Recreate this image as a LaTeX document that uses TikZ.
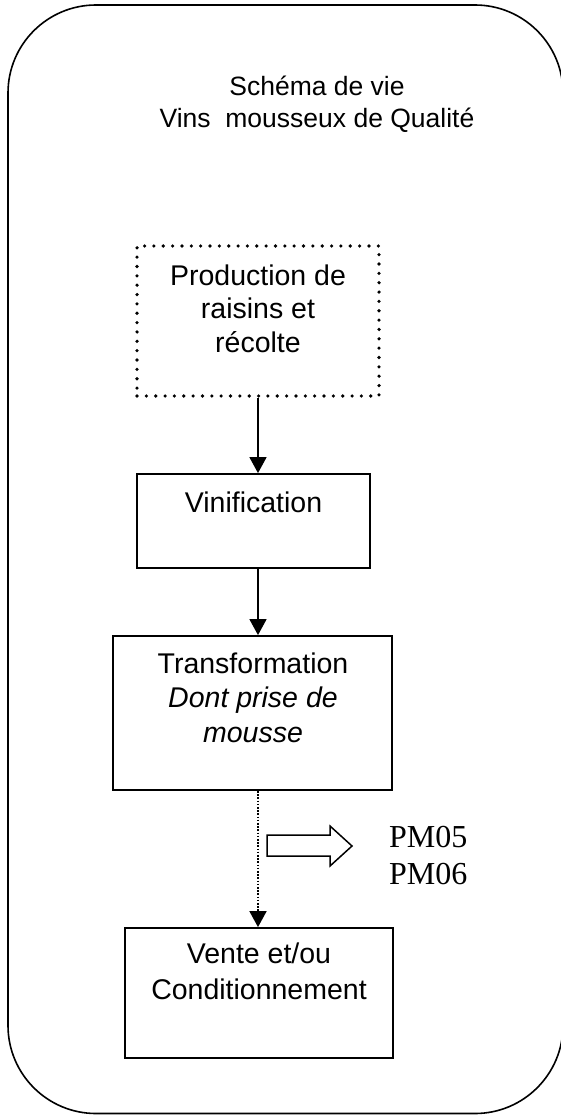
\documentclass[tikz,border=0pt]{standalone}
\usepackage{fontspec}
\setmainfont{Liberation Sans}
\newfontfamily\pmserif{Liberation Serif}
\usetikzlibrary{arrows.meta}
\tikzset{
  frame/.style={draw, line width=1.6pt, rounded corners=88pt},
  stepbox/.style={draw, line width=1.8pt, inner sep=0pt, rectangle},
  dotbox/.style={draw, line width=3.6pt, line cap=round, dash pattern=on 0pt off 9.35pt, inner sep=0pt, rectangle},
  boxtext/.style={anchor=north, inner sep=0pt, align=center},
  arr/.style={line width=1.6pt, -{Triangle[width=17pt,length=16pt]}},
  dotarr/.style={line width=1.8pt, dash pattern=on 1.6pt off 1.6pt, -{Triangle[width=17pt,length=16pt]}},
  blockarrow/.style={draw, line width=1.5pt, line join=miter},
}
\begin{document}
\begin{tikzpicture}[x=1pt,y=-1pt]
\useasboundingbox (0,0) rectangle (561,1115);
\clip (0,0) rectangle (561,1115);
% outer frame
\draw[frame] (8,5) rectangle (563,1113.5);
% title
\node[boxtext, font=\fontsize{26.5}{32}\selectfont] (title) at (317,76) {Schéma de vie\\Vins~ mousseux de Qualité};
% boxes
\node[dotbox, minimum width=242pt, minimum height=150pt] (prod) at (258,321) {};
\node[stepbox, minimum width=233pt, minimum height=94pt] (vin) at (253.5,521) {};
\node[stepbox, minimum width=279pt, minimum height=154pt] (trans) at (252.5,713) {};
\node[stepbox, minimum width=268pt, minimum height=130pt] (vente) at (259,993) {};
% texts
\node[boxtext, font=\fontsize{28.5}{33.5}\selectfont] (prodt) at (258,264.5) {Production de\\raisins et\\récolte};
\node[boxtext, font=\fontsize{28.5}{34}\selectfont] (vint) at (253.5,491.5) {Vinification};
\node[boxtext, font=\fontsize{28.5}{34.5}\selectfont] (transt) at (253,652.5) {Transformation\\\textit{Dont prise de}\\\textit{mousse}};
\node[boxtext, font=\fontsize{28.5}{36}\selectfont] (ventet) at (259,942.5) {Vente et/ou\\Conditionnement};
% connectors
\draw[arr] (prod.south) -- (prod.south |- vin.north);
\draw[arr] (prod.south |- vin.south) -- (prod.south |- trans.north);
\draw[dotarr] (prod.south |- trans.south) -- (prod.south |- vente.north);
% block arrow
\draw[blockarrow] (267,835) -- (330,835) -- (330,826) -- (352,846) -- (330,866) -- (330,856) -- (267,856) -- cycle;
\node[anchor=north west, inner sep=0pt, align=left, font=\pmserif\fontsize{32}{37}\selectfont] (pm) at (389,826.5) {PM05\\PM06};
\end{tikzpicture}
\end{document}
